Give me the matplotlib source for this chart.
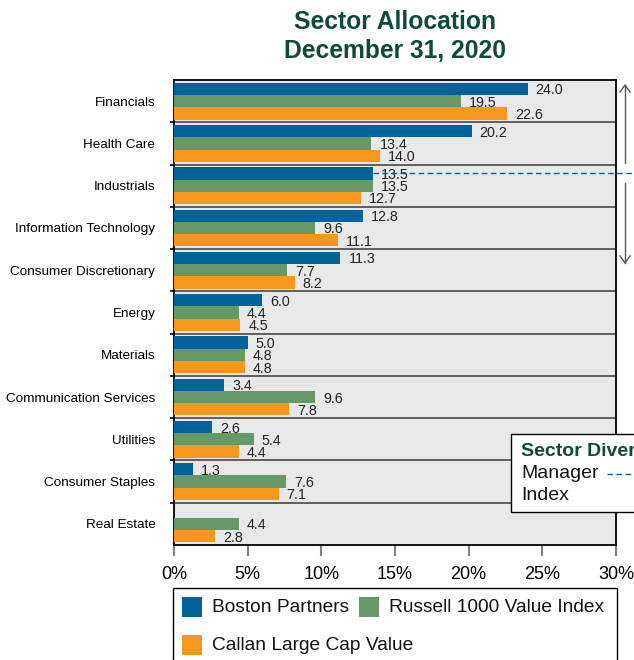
import matplotlib
matplotlib.use("Agg")
import matplotlib.pyplot as plt
from matplotlib.patches import Rectangle
from matplotlib.lines import Line2D
import numpy as np

plt.rcParams['font.family'] = ['Liberation Sans', 'DejaVu Sans']

categories = ["Financials", "Health Care", "Industrials", "Information Technology",
              "Consumer Discretionary", "Energy", "Materials", "Communication Services",
              "Utilities", "Consumer Staples", "Real Estate"]
boston = [24.0, 20.2, 13.5, 12.8, 11.3, 6.0, 5.0, 3.4, 2.6, 1.3, None]
russell = [19.5, 13.4, 13.5, 9.6, 7.7, 4.4, 4.8, 9.6, 5.4, 7.6, 4.4]
callan = [22.6, 14.0, 12.7, 11.1, 8.2, 4.5, 4.8, 7.8, 4.4, 7.1, 2.8]
series_names = ["Boston Partners", "Russell 1000 Value Index", "Callan Large Cap Value"]
xticks = [0, 5, 10, 15, 20, 25, 30]
manager_line_sector = "Industrials"

C_BLUE = "#02639B"
C_GREEN = "#669966"
C_ORANGE = "#F7981D"
C_TITLE = "#0E4A3B"
colors = [C_BLUE, C_GREEN, C_ORANGE]

W, H = 634, 660
fig = plt.figure(figsize=(W / 100, H / 100), dpi=100)

def fx(px):
    return px / W

def fy(py):
    return 1 - py / H

ax = fig.add_axes([fx(174), fy(545), fx(616) - fx(174), fy(80) - fy(545)])
ax.set_facecolor("#E8E8E8")

y = np.arange(len(categories))
bh = 0.29
offsets = [-bh, 0, bh]
for s, (vals, col, off) in enumerate(zip([boston, russell, callan], colors, offsets)):
    for i, v in enumerate(vals):
        if v is None:
            continue
        ax.barh(y[i] + off, v, height=bh, color=col, zorder=3)
        ax.annotate(f"{v:.1f}", xy=(v, y[i] + off), xytext=(8, -1.5),
                    textcoords="offset pixels", ha="left", va="center",
                    fontsize=10.3, color="#222222", zorder=4)

for i in range(len(categories) - 1):
    ax.axhline(i + 0.5, color="#3a3a3a", lw=1.1, zorder=2)

ax.set_xlim(0, 30)
ax.set_ylim(len(categories) - 0.5, -0.5)
ax.set_yticks(y)
ax.set_yticklabels(categories, fontsize=9.7)
ax.tick_params(axis="y", length=0, pad=13.5)
ax.set_yticks(np.arange(len(categories) - 1) + 0.5, minor=True)
ax.tick_params(axis="y", which="minor", length=3, width=1.2, color="black", direction="out")
ax.set_xticks(xticks)
ax.set_xticklabels([f"{t}%" for t in xticks], fontsize=13)
ax.tick_params(axis="x", length=8, width=1.5, color="#808080", pad=7)
for sp in ax.spines.values():
    sp.set_color("black")
    sp.set_linewidth(1.3)

# Manager dashed line
mi = categories.index(manager_line_sector)
mv = boston[mi]
ax.plot([mv, 31.5], [y[mi] - bh, y[mi] - bh], ls=(0, (4, 2.5)), color=C_BLUE,
        lw=1, clip_on=False, zorder=5)

# Title
fig.text(fx(395), fy(22), "Sector Allocation", ha="center", va="center",
         fontsize=17.7, fontweight="bold", color=C_TITLE)
fig.text(fx(395), fy(51), "December 31, 2020", ha="center", va="center",
         fontsize=17.7, fontweight="bold", color=C_TITLE)

# Right-side arrows
fig.add_artist(Line2D([fx(625), fx(625)], [fy(163), fy(85)], color="#555555", lw=1))
fig.add_artist(Line2D([fx(625), fx(625)], [fy(183), fy(263)], color="#555555", lw=1))
fig.add_artist(Line2D([fx(620), fx(625), fx(630)], [fy(92), fy(85), fy(92)], color="#555555", lw=1))
fig.add_artist(Line2D([fx(620), fx(625), fx(630)], [fy(256), fy(263), fy(256)], color="#555555", lw=1))
fig.text(fx(637), fy(122), "Over", rotation=-90, ha="center", va="center",
         fontsize=8, color="#333333")
fig.text(fx(637), fy(221), "Under", rotation=-90, ha="center", va="center",
         fontsize=8, color="#333333")

# Sector Diversification box
box = Rectangle((fx(511), fy(512)), fx(160), fy(434) - fy(512), transform=fig.transFigure,
                facecolor="white", edgecolor="black", lw=1, zorder=10)
fig.add_artist(box)
fig.text(fx(521), fy(452), "Sector Diversification", ha="left", va="center",
         fontsize=14, fontweight="bold", color=C_TITLE, zorder=11)
fig.text(fx(521), fy(473), "Manager", ha="left", va="center", fontsize=14,
         color="#111111", zorder=11)
fig.text(fx(521), fy(496), "Index", ha="left", va="center", fontsize=14,
         color="#111111", zorder=11)
fig.add_artist(Line2D([fx(607), fx(640)], [fy(474), fy(474)], transform=fig.transFigure,
                      ls=(0, (4, 2.5)), color=C_BLUE, lw=1, zorder=11))

# Legend (flow layout, frame continues past bottom edge)
frame = Rectangle((fx(173), fy(700)), fx(617) - fx(173), fy(588) - fy(700),
                  transform=fig.transFigure, facecolor="white", edgecolor="black",
                  lw=1, zorder=10)
fig.add_artist(frame)
legend_items = [(series_names[0], C_BLUE, 182, 607),
                (series_names[1], C_GREEN, 359, 607),
                (series_names[2], C_ORANGE, 182, 645)]
for name, col, x0, yc in legend_items:
    fig.add_artist(Rectangle((fx(x0), fy(yc + 10)), fx(20), fy(yc - 10) - fy(yc + 10),
                             transform=fig.transFigure, facecolor=col, edgecolor="none",
                             zorder=11))
    fig.text(fx(x0 + 30), fy(yc), name, ha="left", va="center", fontsize=13.8,
             color="#111111", zorder=11)

fig.savefig("out.png", dpi=100)
